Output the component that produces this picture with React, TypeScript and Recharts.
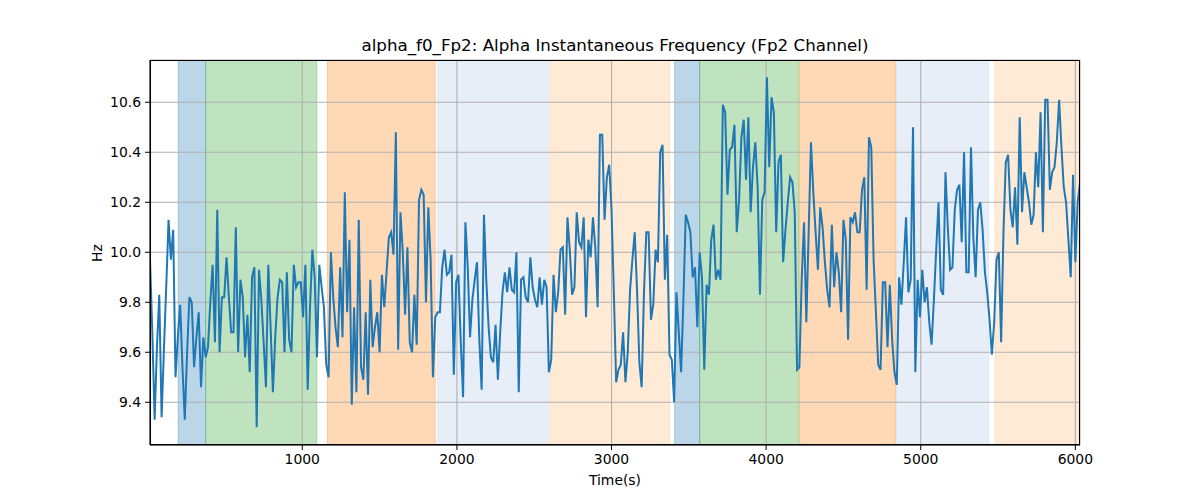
import {
  CartesianGrid,
  ComposedChart,
  Line,
  ReferenceArea,
  XAxis,
  YAxis,
} from "recharts";

// sampling of the instantaneous-frequency trace (seconds)
const T_START = 15;
const T_STEP = 15;

const HZ = [
  9.97, 9.68, 9.33, 9.62, 9.83, 9.34, 9.61, 9.86, 10.13, 9.97,
  10.09, 9.5, 9.66, 9.79, 9.54, 9.33, 9.6, 9.82, 9.8, 9.54,
  9.66, 9.76, 9.46, 9.66, 9.58, 9.62, 9.8, 9.95, 9.64, 10.17,
  9.6, 9.82, 9.82, 9.98, 9.82, 9.68, 9.68, 10.1, 9.6, 9.89,
  9.82, 9.58, 9.75, 9.52, 9.9, 9.94, 9.3, 9.93, 9.81, 9.64,
  9.46, 9.95,
  9.7, 9.44, 9.66, 9.82, 9.89, 9.88, 9.6, 9.92, 9.65, 9.6,
  9.95, 9.86, 9.88, 9.88, 9.74, 9.95, 9.45, 9.78, 10.01, 9.9,
  9.58, 9.95, 9.86, 9.78, 9.55, 9.5, 10.0, 9.82, 9.7, 9.62,
  9.94, 9.66, 10.24, 9.76, 10.05, 9.39, 9.78, 9.44, 10.13, 9.54,
  9.49, 9.76, 9.43, 9.89, 9.62, 9.7, 9.76, 9.6, 9.91, 9.78,
  9.92,
  10.06, 10.08, 9.99, 10.48, 9.61, 10.16, 10.0, 9.75, 10.02, 9.64,
  9.6, 9.83, 9.63, 10.21, 10.25, 10.23, 9.8, 10.18, 9.97, 9.5,
  9.74, 9.76, 9.76, 9.94, 10.01, 9.91, 9.92, 9.99, 9.51, 9.88,
  9.91, 9.64, 9.42, 10.12, 9.94, 9.66, 9.81, 9.89, 9.96, 9.65,
  9.45, 10.15, 9.89, 9.7, 9.58, 9.56, 9.71, 9.49, 9.68, 9.84,
  9.92, 9.84, 9.94, 9.85, 9.84, 10.0, 9.44, 9.89, 9.9, 9.82,
  9.8, 9.98, 9.86, 9.81, 9.78, 9.9, 9.79, 9.89, 9.86, 9.52,
  9.57, 9.91, 9.76, 9.84, 10.01, 10.02, 9.75, 10.14, 10.01, 9.83,
  9.86, 10.16, 10.04, 10.02, 10.14, 9.74, 10.05, 9.98, 10.14, 10.02,
  9.78, 10.47, 10.47, 10.13, 10.3, 10.35, 10.17, 9.84, 9.48, 9.53,
  9.55,
  9.68, 9.48, 9.6, 9.85, 9.97, 10.08, 9.85, 9.56, 9.46, 9.84,
  10.08, 10.08, 9.73, 9.79, 10.01, 9.96, 10.4, 10.43, 9.89, 10.07,
  9.59, 9.57, 9.4, 9.84, 9.68, 9.52, 9.81, 10.15, 10.12, 10.08,
  9.9, 9.94, 9.7, 10.0, 9.9, 9.53, 9.87, 9.83, 10.05, 10.11,
  9.89, 9.93, 9.89, 10.59, 10.56, 10.23, 10.41, 10.42, 10.51, 10.08,
  10.21, 10.46, 10.53, 10.29, 10.54, 10.16, 10.34, 10.44, 10.26, 9.83,
  10.21, 10.24, 10.7, 10.34, 10.62, 10.56, 10.08, 10.36, 10.39, 9.96,
  10.09, 10.2, 10.3, 10.28, 10.16, 9.53, 9.54, 9.89, 10.12, 9.72,
  10.08, 10.44, 10.24, 10.08, 9.93, 10.18, 10.1, 9.96, 9.85, 9.78,
  10.11, 9.86, 10.0, 9.92, 9.76, 10.13, 10.05, 9.65, 10.14, 10.12,
  10.16, 10.08, 10.08, 10.25, 10.3, 9.85, 10.46, 10.42, 9.97, 9.76,
  9.55, 9.53, 9.88, 9.88, 9.62, 9.87, 9.65, 9.52, 9.47, 9.9,
  9.79, 9.96, 10.14, 9.84, 9.89, 10.5, 9.52, 9.89, 9.74, 9.93,
  9.8, 9.86, 9.72, 9.63, 9.81, 10.01, 10.2, 9.85, 9.83, 10.32,
  10.1, 9.93, 9.94, 10.17, 10.25, 10.27, 10.04, 10.4, 9.92, 9.92,
  10.42,
  10.06, 9.9, 10.17, 10.2, 10.09, 9.92, 9.84, 9.73, 9.59, 9.72,
  9.97, 10.0, 9.64, 10.08, 10.36, 10.39, 10.17, 10.1, 10.26, 10.03,
  10.54, 10.16, 10.32, 10.26, 10.2, 10.11, 10.15, 10.4, 10.26, 10.56,
  10.08, 10.61, 10.61, 10.25, 10.32, 10.34, 10.44, 10.61, 10.42, 10.26,
  10.2, 10.05, 9.9, 10.31, 9.96, 10.2, 10.28,
];

// shaded phases
const SPAN_START = [197, 375, 1162, 1874, 2600, 3408, 3570, 4216, 4843, 5480];
const SPAN_END = [375, 1094, 1860, 2590, 3376, 3570, 4211, 4838, 5440, 6030];
const SPAN_KIND = ["blue", "green", "orange", "ltblue", "ltorange", "blue", "green", "orange", "ltblue", "ltorange"];

const X_TICKS = [1000, 2000, 3000, 4000, 5000, 6000];
const Y_TICKS = [9.4, 9.6, 9.8, 10.0, 10.2, 10.4, 10.6];

const KIND_COLOR: Record<string, string> = {
  blue: "#1f77b4",
  green: "#2ca02c",
  orange: "#ff7f0e",
  ltblue: "#aec7e8",
  ltorange: "#ffbb78",
};

const data = HZ.map((hz, i) => ({ t: T_START + i * T_STEP, hz }));

const FONT = "'DejaVu Sans', sans-serif";
const tickStyle = { fill: "#000", fontSize: 13.9, fontFamily: FONT };

export default function App() {
  return (
    <div style={{ position: "absolute", left: 0, top: 0, width: 1200, height: 500, background: "#fff" }}>
      <ComposedChart
        width={1200}
        height={500}
        data={data}
        margin={{ top: 60, right: 120, bottom: 0, left: 0 }}
      >
        {SPAN_START.map((s, i) => (
          <ReferenceArea
            key={i}
            x1={s}
            x2={SPAN_END[i]}
            fill={KIND_COLOR[SPAN_KIND[i]]}
            fillOpacity={0.3}
            stroke={KIND_COLOR[SPAN_KIND[i]]}
            strokeOpacity={0.3}
            ifOverflow="hidden"
          />
        ))}
        <CartesianGrid stroke="#b0b0b0" strokeWidth={1.1} zIndex={200} />
        <XAxis
          dataKey="t"
          type="number"
          domain={[15, 6030]}
          ticks={X_TICKS}
          allowDataOverflow
          height={55}
          tickSize={5}
          tickMargin={4}
          tick={tickStyle}
          stroke="#000"
          tickLine={{ stroke: "#000" }}
          axisLine={{ stroke: "#000" }}
        />
        <YAxis
          type="number"
          domain={[9.229, 10.769]}
          ticks={Y_TICKS}
          allowDataOverflow
          width={150}
          tickSize={5}
          tickMargin={4}
          tick={tickStyle}
          tickFormatter={(v: number) => v.toFixed(1)}
          tickLine={{ stroke: "#000" }}
          axisLine={{ stroke: "#000" }}
        />
        <Line
          dataKey="hz"
          type="linear"
          stroke="#1f77b4"
          strokeWidth={2}
          dot={false}
          activeDot={false}
          isAnimationActive={false}
        />
      </ComposedChart>
      <div
        style={{
          position: "absolute",
          left: 150,
          top: 60,
          width: 930,
          height: 385,
          border: "1px solid #000",
          boxSizing: "border-box",
          pointerEvents: "none",
        }}
      />
      <div
        style={{
          position: "absolute",
          left: 150,
          width: 930,
          top: 35,
          textAlign: "center",
          fontFamily: FONT,
          fontSize: 16.7,
          lineHeight: "20px",
        }}
      >
        alpha_f0_Fp2: Alpha Instantaneous Frequency (Fp2 Channel)
      </div>
      <div
        style={{
          position: "absolute",
          left: 150,
          width: 930,
          top: 472,
          textAlign: "center",
          fontFamily: FONT,
          fontSize: 13.9,
          lineHeight: "17px",
        }}
      >
        Time(s)
      </div>
      <div
        style={{
          position: "absolute",
          left: 97,
          top: 253,
          transform: "translate(-50%, -50%) rotate(-90deg)",
          fontFamily: FONT,
          fontSize: 13.9,
          lineHeight: "17px",
          whiteSpace: "nowrap",
        }}
      >
        Hz
      </div>
    </div>
  );
}
